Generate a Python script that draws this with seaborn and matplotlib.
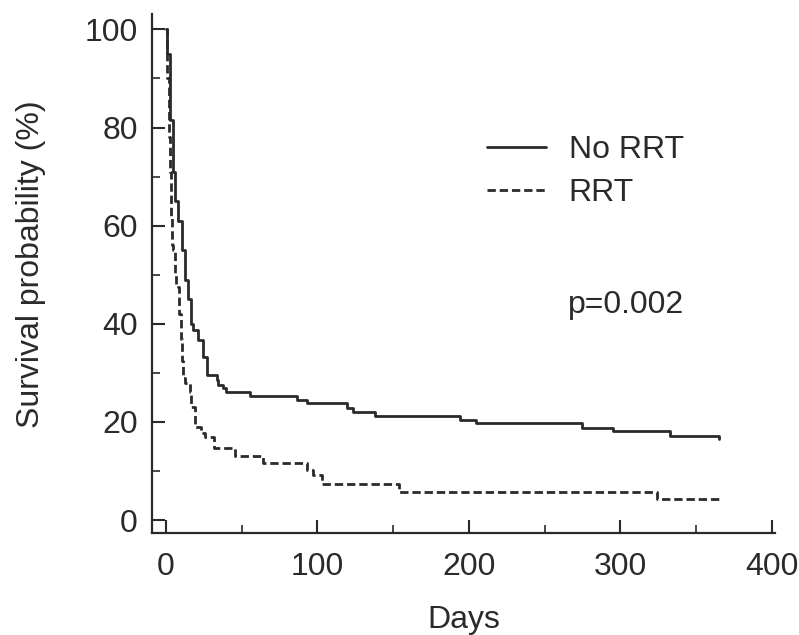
import numpy as np
import pandas as pd
import matplotlib
matplotlib.use('Agg')
import matplotlib.pyplot as plt
from matplotlib.ticker import MultipleLocator
import seaborn as sns

# Kaplan-Meier step points (days, survival %)
no_rrt_days = [0, 1, 2.5, 4.5, 6, 8, 11, 12.5, 14.5, 16.5, 18, 21, 24.5, 27, 27.5,
               33.5, 34.5, 37.5, 40, 55.5, 86.5, 93, 119.5, 123.5, 138, 194, 205,
               274.5, 295, 332.5, 365]
no_rrt_surv = [100, 95, 81.5, 71, 65, 61, 55, 49, 45, 40, 38.7, 36.7, 33.2, 30, 29.5,
               28.5, 27.5, 27, 26, 25.3, 24.4, 23.8, 22.8, 22, 21.2, 20.4, 19.8,
               18.7, 18.1, 17.1, 16.5]

rrt_days = [0, 1, 2, 3, 3.5, 4, 5, 6, 7, 8, 9, 10, 11, 11.5, 12.5, 16, 16.5, 19,
            19.5, 21, 23.5, 26, 32, 45.5, 64, 93, 97, 103, 154, 324, 365]
rrt_surv = [100, 90, 78, 71, 62, 56, 55, 50, 48, 47.5, 42, 37, 32.5, 29, 28, 26, 23, 23,
            19, 19, 17.7, 17, 14.6, 13, 11.6, 10.2, 9.2, 7.3, 5.7, 4.3, 4.3]

groups = ['No RRT', 'RRT']
p_text = 'p=0.002'

df = pd.concat([
    pd.DataFrame({'Days': no_rrt_days, 'Survival': no_rrt_surv, 'Group': groups[0]}),
    pd.DataFrame({'Days': rrt_days, 'Survival': rrt_surv, 'Group': groups[1]}),
], ignore_index=True)

sns.set_style('ticks')
plt.rcParams['font.family'] = ['Liberation Sans', 'DejaVu Sans']
ink = '#2a2a2a'

fig = plt.figure(figsize=(7.99, 6.35), dpi=100)
ax = fig.add_axes([0.190, 0.1606, 0.780, 0.817])

sns.lineplot(data=df, x='Days', y='Survival', style='Group',
             dashes={'No RRT': '', 'RRT': (3.0, 1.4)},
             estimator=None, sort=False, drawstyle='steps-post',
             color=ink, linewidth=2.0, legend=False, ax=ax)

ax.set_xlim(-9.2, 402)
ax.set_ylim(-2.65, 103.1)
ax.xaxis.set_major_locator(MultipleLocator(100))
ax.xaxis.set_minor_locator(MultipleLocator(50))
ax.yaxis.set_major_locator(MultipleLocator(20))
ax.yaxis.set_minor_locator(MultipleLocator(10))

for side in ['top', 'right']:
    ax.spines[side].set_visible(False)
for side in ['left', 'bottom']:
    ax.spines[side].set_linewidth(1.6)
    ax.spines[side].set_color(ink)

ax.tick_params(which='major', direction='in', length=9.5, width=1.5, colors=ink,
               labelsize=23, pad=10)
ax.tick_params(which='minor', direction='in', length=5.5, width=1.2, colors=ink)
ax.tick_params(axis='x', pad=14)

ax.set_xlabel('Days', fontsize=23, color=ink, labelpad=16)
ax.set_ylabel('Survival probability (%)', fontsize=23, color=ink)
ax.yaxis.set_label_coords(-0.170, 0.518)

handles = ax.lines[:2]
ax.legend(handles, groups, loc='center left', bbox_to_anchor=(0.538, 0.697),
          frameon=False, fontsize=23, handlelength=1.85, handletextpad=0.7,
          labelspacing=0.42, borderpad=0, borderaxespad=0, labelcolor=ink)

ax.text(0.668, 0.439, p_text, transform=ax.transAxes, fontsize=23, color=ink,
        va='center', ha='left')

fig.savefig('out.png', dpi=100)
